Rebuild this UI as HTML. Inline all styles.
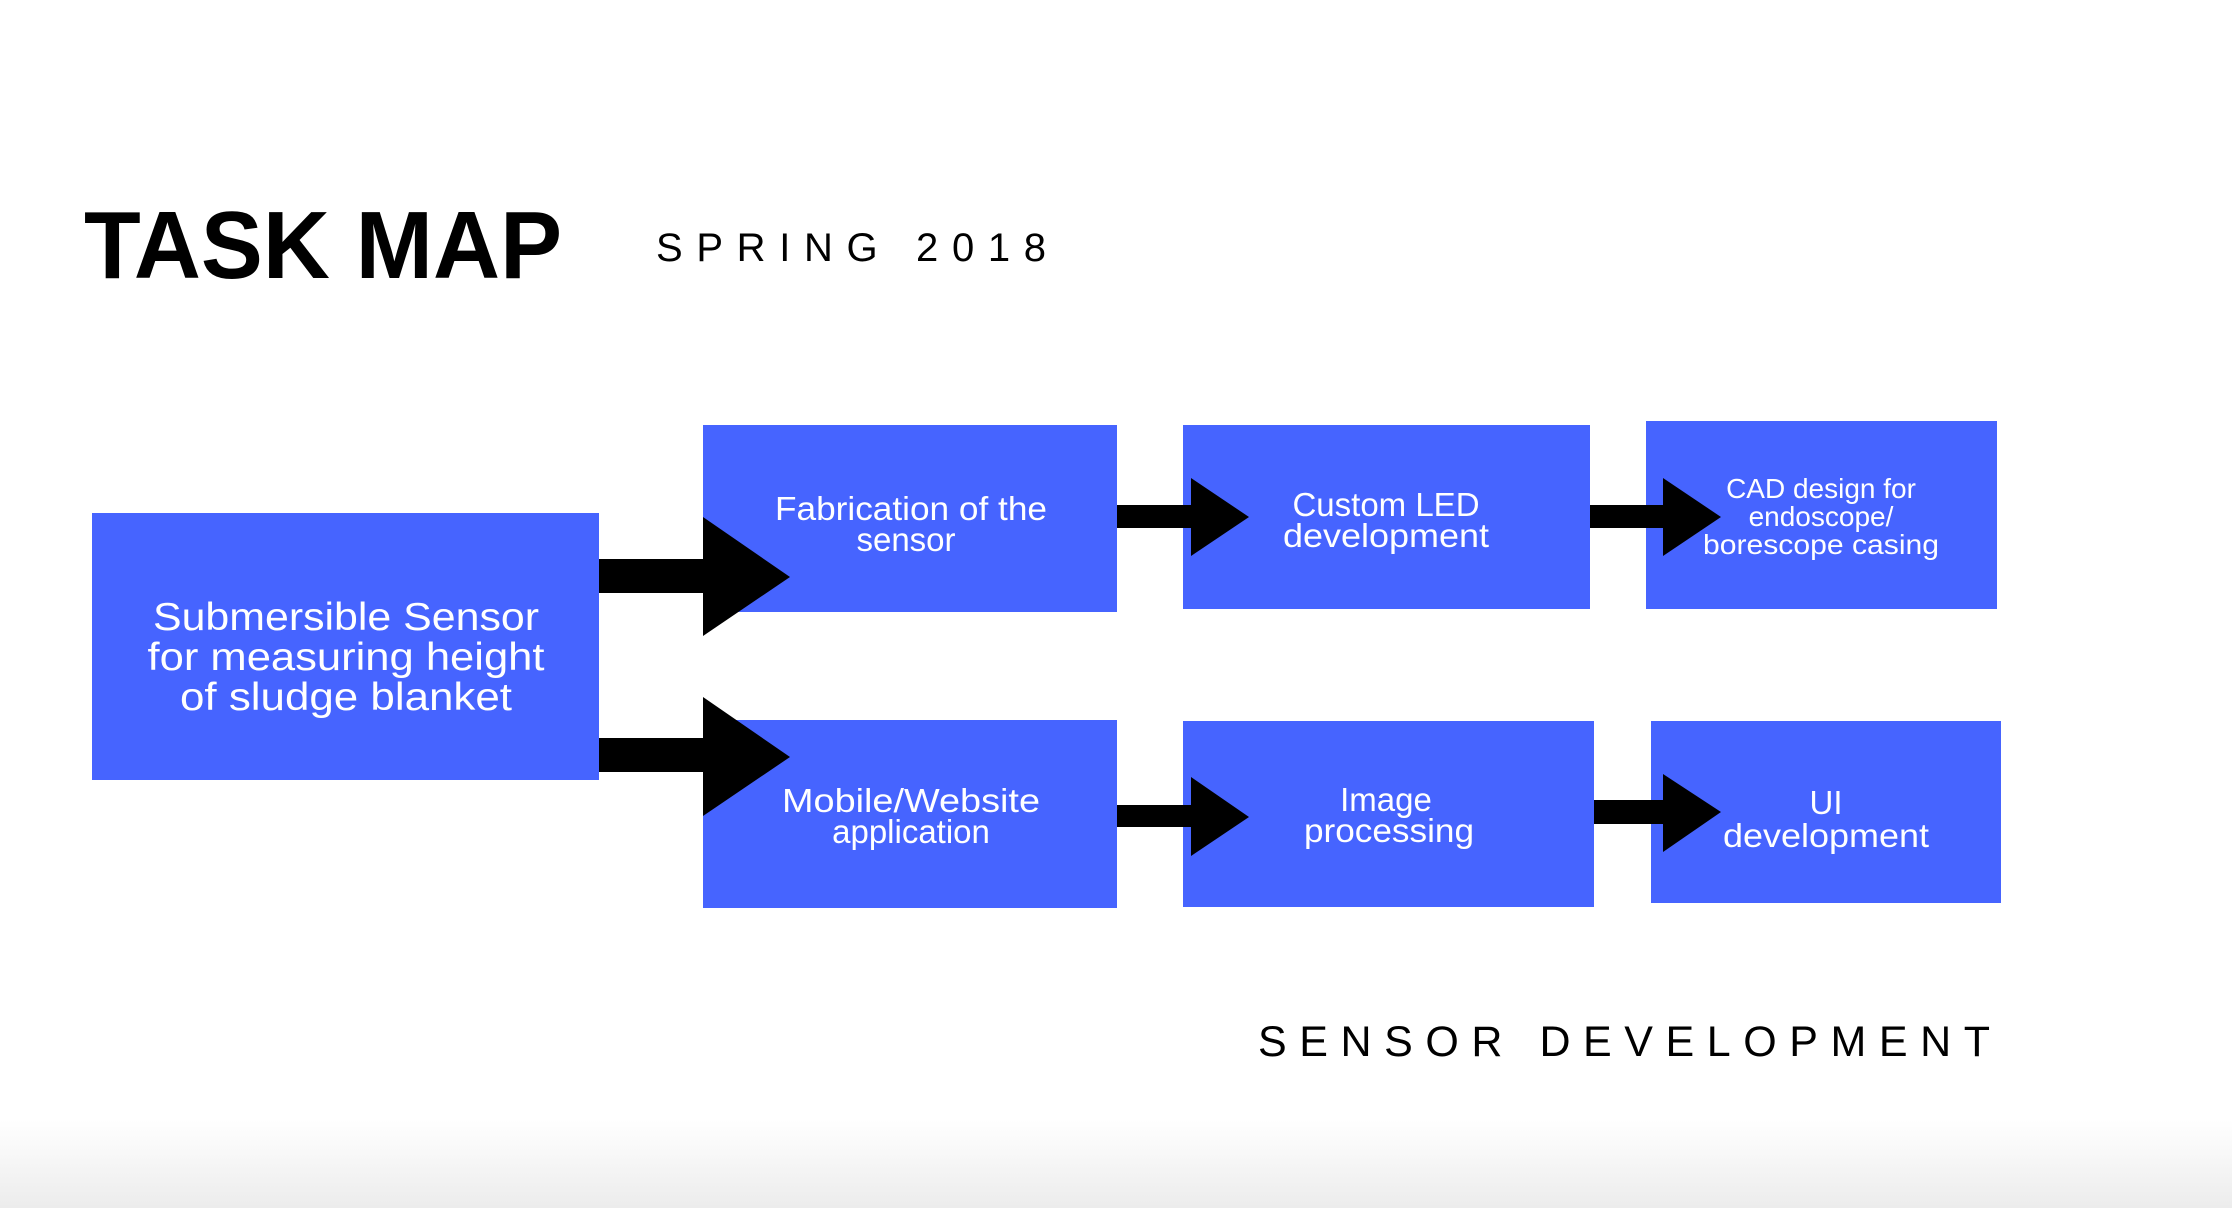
<!DOCTYPE html>
<html><head><meta charset="utf-8"><style>
html,body{margin:0;padding:0;background:#fff;}
svg{display:block;}
text{font-family:"Liberation Sans",sans-serif;}
.w{fill:#fff;text-anchor:middle;}
</style></head><body>
<svg width="2232" height="1208" viewBox="0 0 2232 1208" xmlns="http://www.w3.org/2000/svg">
<defs><linearGradient id="g" x1="0" y1="0" x2="0" y2="1"><stop offset="0" stop-color="#fff"/><stop offset="1" stop-color="#ececec"/></linearGradient></defs>
<rect width="2232" height="1208" fill="#fff"/>
<rect y="1120" width="2232" height="88" fill="url(#g)"/>
<text x="84" y="278" font-size="96" font-weight="bold" fill="#000" textLength="478" lengthAdjust="spacingAndGlyphs">TASK MAP</text>
<text x="656" y="261" font-size="40" fill="#000" textLength="390" lengthAdjust="spacing">SPRING 2018</text>
<text x="1258" y="1056" font-size="43" fill="#000" textLength="732" lengthAdjust="spacing">SENSOR DEVELOPMENT</text>
<g fill="#4664FF">
<rect x="92" y="513" width="507" height="267"/>
<rect x="703" y="425" width="414" height="187"/>
<rect x="703" y="720" width="414" height="188"/>
<rect x="1183" y="425" width="407" height="184"/>
<rect x="1646" y="421" width="351" height="188"/>
<rect x="1183" y="721" width="411" height="186"/>
<rect x="1651" y="721" width="350" height="182"/>
</g>
<g fill="#000">
<polygon points="599,559 703,559 703,517 790,577 703,636 703,593 599,593"/>
<polygon points="599,738 703,738 703,697 790,757 703,816 703,772 599,772"/>
<polygon points="1117,505 1191,505 1191,478 1249,517 1191,556 1191,528 1117,528"/>
<polygon points="1590,505 1663,505 1663,478 1721,517 1663,556 1663,528 1590,528"/>
<polygon points="1117,805 1191,805 1191,777 1249,817 1191,856 1191,827 1117,827"/>
<polygon points="1594,800 1663,800 1663,774 1721,812 1663,852 1663,824 1594,824"/>
</g>
<g class="w">
<text x="346" y="630" font-size="39" class="w" textLength="386" lengthAdjust="spacingAndGlyphs">Submersible Sensor</text>
<text x="346" y="670" font-size="39" class="w" textLength="397" lengthAdjust="spacingAndGlyphs">for measuring height</text>
<text x="346" y="710" font-size="39" class="w" textLength="332" lengthAdjust="spacingAndGlyphs">of sludge blanket</text>
<text x="911" y="520" font-size="33" class="w" textLength="272" lengthAdjust="spacingAndGlyphs">Fabrication of the</text>
<text x="906" y="551" font-size="33" class="w">sensor</text>
<text x="911" y="812" font-size="33" class="w" textLength="258" lengthAdjust="spacingAndGlyphs">Mobile/Website</text>
<text x="911" y="843" font-size="33" class="w">application</text>
<text x="1386" y="516" font-size="33" class="w">Custom LED</text>
<text x="1386" y="547" font-size="33" class="w" textLength="206" lengthAdjust="spacingAndGlyphs">development</text>
<text x="1821" y="498" font-size="28" class="w">CAD design for</text>
<text x="1821" y="526" font-size="28" class="w">endoscope/</text>
<text x="1821" y="554" font-size="28" class="w" textLength="236" lengthAdjust="spacingAndGlyphs">borescope casing</text>
<text x="1386" y="811" font-size="33" class="w">Image</text>
<text x="1389" y="842" font-size="33" class="w" textLength="170" lengthAdjust="spacingAndGlyphs">processing</text>
<text x="1826" y="814" font-size="33" class="w">UI</text>
<text x="1826" y="847" font-size="33" class="w" textLength="206" lengthAdjust="spacingAndGlyphs">development</text>
</g>
</svg>
</body></html>
